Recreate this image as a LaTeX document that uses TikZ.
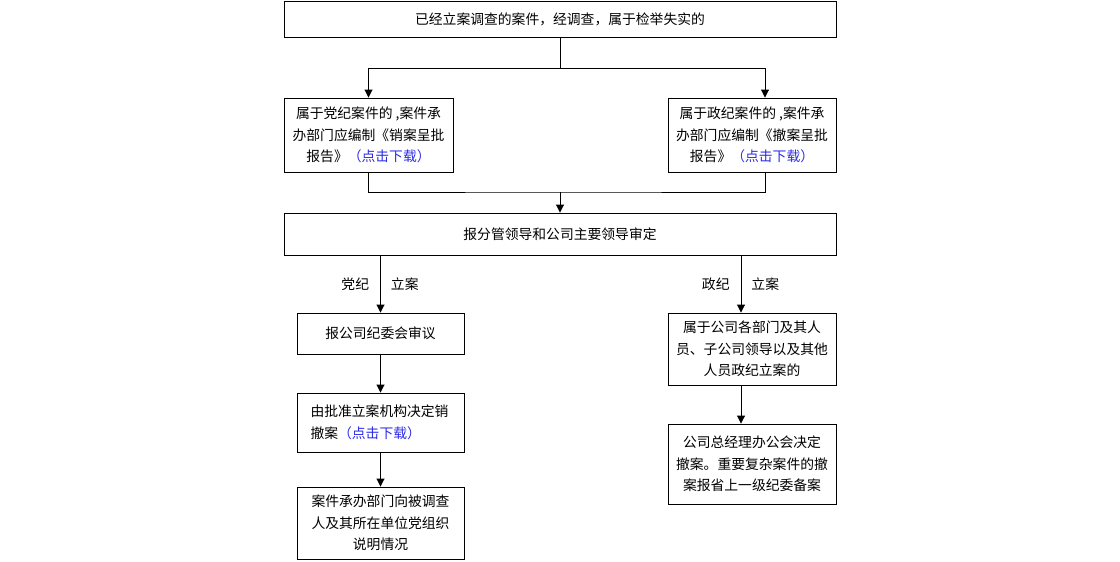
\documentclass[tikz,border=0pt]{standalone}
\usepackage{fontspec}
\setmainfont{Noto Sans CJK SC}
\usepackage{xcolor}
\usetikzlibrary{arrows.meta, positioning}
\definecolor{flowline}{HTML}{000000}
\definecolor{linkblue}{HTML}{2B2BE8}
\newcommand{\dllink}{\textcolor{linkblue}{（点击下载）}}

\begin{document}
\begin{tikzpicture}[x=1pt, y=-1pt,
  box/.style={rectangle, draw=flowline, line width=0.9pt, fill=white, font=\fontsize{13.8}{21.5}\selectfont, align=center, inner sep=0pt},
  wide/.style={box, minimum width=552pt},
  narrow/.style={box, minimum width=168pt},
  lbl/.style={font=\fontsize{13.8}{16}\selectfont, inner sep=0pt},
  rel/.style={-{Triangle[length=8pt, width=8pt]}, flowline, line width=0.9pt}
]
\useasboundingbox (0,0) rectangle (1120,562);

\node[wide, minimum height=36pt] (top) at (560,19) {已经立案调查的案件，经调查，属于检举失实的};
\node[narrow, minimum width=169pt, minimum height=74pt] (partybox) at (368.5,135) {属于党纪案件的 ,案件承\\办部门应编制《销案呈批\\报告》\dllink};
\node[narrow, minimum height=74pt] (govbox) at (752,135) {属于政纪案件的 ,案件承\\办部门应编制《撤案呈批\\报告》\dllink};
\node[wide, minimum height=42pt] (review) at (560,234) {报分管领导和公司主要领导审定};

\node[narrow, minimum width=167pt, minimum height=41pt] (commission) at (380.5,333.5) {报公司纪委会审议};
\node[narrow, minimum width=167pt, minimum height=59pt, align=left, text width=140pt] (approve) at (380.5,422.5) {由批准立案机构决定销\\撤案\dllink};
\node[narrow, minimum width=167pt, minimum height=72pt] (explain) at (380.5,523) {案件承办部门向被调查\\人及其所在单位党组织\\说明情况};

\node[narrow, minimum height=72pt] (govfile) at (752,349) {属于公司各部门及其人\\员、子公司领导以及其他\\人员政纪立案的};
\node[narrow, minimum height=80pt] (gmoffice) at (752,464) {公司总经理办公会决定\\撤案。重要复杂案件的撤\\案报省上一级纪委备案};

% split and merge points
\coordinate (split) at (560,68);
\coordinate (merge) at (560,192);
\coordinate (govin) at ([xshift=13pt]govbox.north);
\coordinate (govout) at ([xshift=13pt]govbox.south);
\coordinate (govdown) at ([xshift=-11pt]govfile.north);

\draw[rel] (top.south) -- (split) -| (partybox.north);
\draw[rel] (split) -| (govin);
\draw[flowline, line width=0.9pt] (partybox.south) |- (merge) -| (govout);
\draw[rel] (merge) -- (review.north);

\draw[rel] (commission.north |- review.south) -- node[lbl, left=11pt]{党纪} node[lbl, right=10pt]{立案} (commission.north);
\draw[rel] (govdown |- review.south) -- node[lbl, left=11pt]{政纪} node[lbl, right=10pt]{立案} (govdown);

\draw[rel] (commission) -- (approve);
\draw[rel] (approve) -- (explain);
\draw[rel] (govfile.south -| govdown) -- (gmoffice.north -| govdown);
\end{tikzpicture}
\end{document}
